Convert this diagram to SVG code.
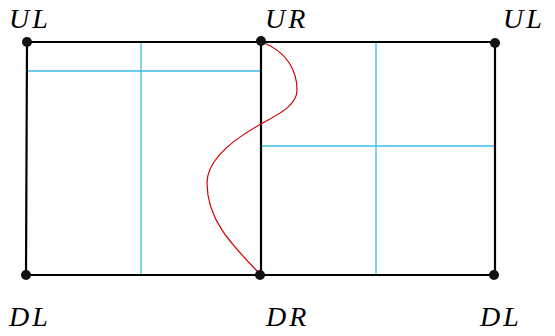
<svg xmlns="http://www.w3.org/2000/svg" width="555" height="336" viewBox="0 0 555 336">
<style>
.frame{fill:none;stroke:#000;stroke-width:2.2}
.grid{fill:none;stroke:#3cbde0;stroke-width:1.3}
.curve{fill:none;stroke:#d40000;stroke-width:1.2}
.dot{fill:#111}
.lbl{font-family:"Liberation Serif","DejaVu Serif",serif;font-style:italic;font-size:28px;fill:#000;letter-spacing:3px}
</style>
<g id="grid-left">
<line class="grid" x1="141" y1="42" x2="141" y2="275"/>
<line class="grid" x1="28" y1="71" x2="260" y2="71"/>
</g>
<g id="grid-right">
<line class="grid" x1="376" y1="43" x2="376" y2="275"/>
<line class="grid" x1="262" y1="146" x2="495" y2="146"/>
</g>
<g id="connectors">
<path class="frame" d="M27,42 H495 V275 H26 Z"/>
<line class="frame" x1="261" y1="41" x2="261" y2="275"/>
<path class="curve" d="M262,42 C288,52 297,72 297,90 C297,106 277,115 261,124 C232,140 207,160 207,183 C207,220 232,245 258,272"/>
</g>
<g id="UL1"><circle class="dot" cx="27" cy="42" r="5"/><text class="lbl" x="9" y="28">UL</text></g>
<g id="UR"><circle class="dot" cx="261" cy="41" r="5"/><text class="lbl" x="265" y="28">UR</text></g>
<g id="UL2"><circle class="dot" cx="495" cy="43" r="5"/><text class="lbl" x="503" y="28">UL</text></g>
<g id="DL1"><circle class="dot" cx="26" cy="275" r="5"/><text class="lbl" x="9" y="326">DL</text></g>
<g id="DR"><circle class="dot" cx="260" cy="275" r="5"/><text class="lbl" x="266" y="326">DR</text></g>
<g id="DL2"><circle class="dot" cx="494" cy="275" r="5"/><text class="lbl" x="480" y="326">DL</text></g>
</svg>
